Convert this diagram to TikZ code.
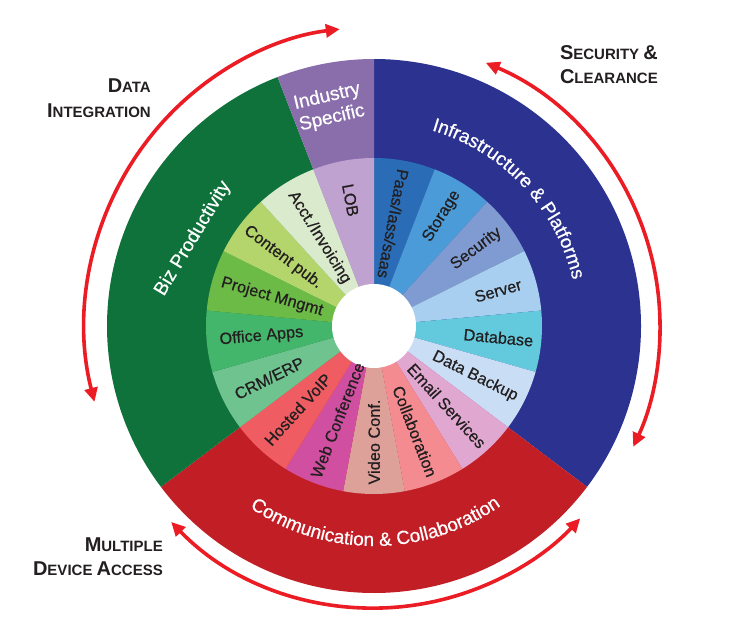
\documentclass[tikz,border=0pt]{standalone}
\usepackage{fontspec}
\setmainfont{Liberation Sans}
\newfontfamily\labfont[FakeBold=0.6]{Liberation Sans}
\usetikzlibrary{arrows.meta,decorations.text}
\definecolor{cPurpleO}{HTML}{8A6DAB}
\definecolor{cBlueO}{HTML}{2B3290}
\definecolor{cRedO}{HTML}{C21E26}
\definecolor{cGreenO}{HTML}{10723B}
\definecolor{cPaas}{HTML}{2A6DB6}
\definecolor{cStorage}{HTML}{4A9BD7}
\definecolor{cSecurity}{HTML}{7F9BD1}
\definecolor{cServer}{HTML}{A8CFEF}
\definecolor{cDatabase}{HTML}{63C9DD}
\definecolor{cBackup}{HTML}{C9DEF4}
\definecolor{cEmail}{HTML}{E0A7D0}
\definecolor{cCollab}{HTML}{F38B90}
\definecolor{cVideo}{HTML}{DDA19A}
\definecolor{cWeb}{HTML}{D04FA0}
\definecolor{cVoip}{HTML}{EF5C61}
\definecolor{cCrm}{HTML}{6EC38F}
\definecolor{cOffice}{HTML}{44B66C}
\definecolor{cProject}{HTML}{6CBB46}
\definecolor{cContent}{HTML}{B3D56B}
\definecolor{cAcct}{HTML}{DAEACD}
\definecolor{cLob}{HTML}{BFA2D0}
\definecolor{cText}{HTML}{231F20}
\definecolor{cArrow}{HTML}{EC1C24}
\newcommand\BigC[1]{{\fontsize{20}{20}\selectfont #1}}
\newcommand\SmC[1]{{\fontsize{15}{15}\selectfont #1}}
\tikzset{
  inlab/.style={text=cText, inner sep=0pt, font=\labfont\fontsize{16.3}{16.3}\selectfont},
  outlab/.style={text=white, inner sep=0pt, font=\labfont\fontsize{19}{22}\selectfont},
  headlab/.style={text=cText, inner sep=0pt, anchor=base east, font=\bfseries\fontsize{15}{15}\selectfont},
  redarrow/.style={draw=cArrow, line width=3.6pt,
    arrows={Triangle[length=14pt,width=13pt]-Triangle[length=14pt,width=13pt]}},
}
\begin{document}
\begin{tikzpicture}[x=1pt,y=1pt]
\useasboundingbox (-374,-307) rectangle (359,326);
\pgfmathsetmacro{\s}{360/17}
% outer ring
\fill[cBlueO] (0,0) -- ({90-6*\s}:267) arc[start angle={90-6*\s}, end angle=90, radius=267] -- cycle;
\fill[cRedO] (0,0) -- ({90-11*\s}:267) arc[start angle={90-11*\s}, end angle={90-6*\s}, radius=267] -- cycle;
\fill[cGreenO] (0,0) -- ({90-16*\s}:267) arc[start angle={90-16*\s}, end angle={90-11*\s}, radius=267] -- cycle;
\fill[cPurpleO] (0,0) -- ({90-17*\s}:267) arc[start angle={90-17*\s}, end angle={90-16*\s}, radius=267] -- cycle;
% inner ring
\foreach \i/\col in {1/cPaas,2/cStorage,3/cSecurity,4/cServer,5/cDatabase,6/cBackup,7/cEmail,8/cCollab,9/cVideo,10/cWeb,11/cVoip,12/cCrm,13/cOffice,14/cProject,15/cContent,16/cAcct,17/cLob}{
  \fill[\col] (0,0) -- ({90-\i*\s}:168) arc[start angle={90-\i*\s}, delta angle={\s}, radius=168] -- cycle;
}
\fill[white] (0,0) circle[radius=42];
% inner labels
\node[inlab, rotate=-100.59] (l1) at (79.41:104) {Paas/Iass/saas};
\node[inlab, rotate=58.24] (l2) at (58.24:129) {Storage};
\node[inlab, rotate=37.06] (l3) at (37.06:128) {Security};
\node[inlab, rotate=15.88] (l4) at (15.88:129) {Server};
\node[inlab, rotate=-5.29] (l5) at (-5.29:125) {Database};
\node[inlab, rotate=-26.47] (l6) at (-26.47:113) {Data Backup};
\node[inlab, rotate=-47.65] (l7) at (-47.65:108) {Email Services};
\node[inlab, rotate=-68.82] (l8) at (-68.82:113) {Collaboration};
\node[inlab, rotate=90] (l9) at (-90:116) {Video Conf.};
\node[inlab, rotate=68.82] (l10) at (-111.18:101) {Web Conference};
\node[inlab, rotate=47.65] (l11) at (-132.35:113) {Hosted VoIP};
\node[inlab, rotate=26.47] (l12) at (-153.53:117) {CRM/ERP};
\node[inlab, rotate=5.29] (l13) at (-174.71:113) {Office Apps};
\node[inlab, rotate=-15.88] (l14) at (164.12:106) {Project Mngmt};
\node[inlab, rotate=-37.06] (l15) at (142.94:114) {Content pub.};
\node[inlab, rotate=-58.24] (l16) at (121.76:104) {Acct./Invoicing};
\node[inlab, rotate=-79.41] (l17) at (100.59:128) {LOB};
% outer labels
\node[outlab, align=center, rotate=13] (ind) at (101.5:223) {Industry\\Specific};
\node[outlab, rotate=59] (biz) at (154.2:201) {Biz Productivity};
\path[decorate, decoration={text along path, text align=center,
  text={|\labfont\fontsize{19}{19}\selectfont\color{white}|Infrastructure {\&} Platforms}}]
  (80.3:204) arc[start angle=80.3, end angle=6.3, radius=204];
\path[decorate, decoration={text along path, text align=center,
  text={|\labfont\fontsize{19}{19}\selectfont\color{white}|Communication {\&} Collaboration}}]
  (230.4:220) arc[start angle=230.4, end angle=310.4, radius=220];
% arrows
\draw[redarrow] (194.7:289 and 299) arc[start angle=194.7, end angle=96.8, x radius=289, y radius=299];
\draw[redarrow] (67:286) arc[start angle=67, end angle=-25, radius=286];
\draw[redarrow] (224:282) arc[start angle=224, end angle=317, radius=282];
% headings
\node[headlab] (dataA) at (-223,234) {\BigC{D}\SmC{ATA}};
\node[headlab] (dataB) at (-223,209) {\BigC{I}\SmC{NTEGRATION}};
\node[headlab] (secA) at (284,267) {\BigC{S}\SmC{ECURITY} \BigC{\&}};
\node[headlab] (secB) at (284,243) {\BigC{C}\SmC{LEARANCE}};
\node[headlab] (mulA) at (-211,-225) {\BigC{M}\SmC{ULTIPLE}};
\node[headlab] (mulB) at (-211,-249) {\BigC{D}\SmC{EVICE} \BigC{A}\SmC{CCESS}};
\end{tikzpicture}
\end{document}
